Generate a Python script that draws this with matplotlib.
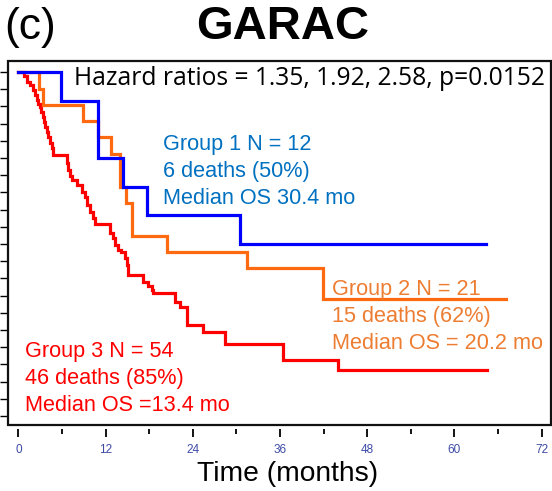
import matplotlib.pyplot as plt
from matplotlib.patches import Rectangle
import numpy as np

plt.rcParams['font.family'] = ['Liberation Sans', 'DejaVu Sans']

# Kaplan-Meier steps: drop times (months) and survival after each drop
g1_time = [0, 5.9, 11.0, 14.4, 17.7, 30.5]
g1_surv = [1.0, 0.917, 0.750, 0.667, 0.583, 0.500]
g1_end = 64.3

g2_time = [0, 2.9, 3.4, 8.9, 10.9, 12.8, 14.0, 14.8, 15.6, 20.4, 31.4, 41.9]
g2_surv = [1.0, 0.952, 0.905, 0.857, 0.810, 0.762, 0.667, 0.619, 0.524, 0.476, 0.429, 0.340]
g2_end = 67.1

g3_time = [0, 0.78, 1.20, 1.61, 2.02, 2.30, 2.57, 2.71, 2.98, 3.12, 3.40, 3.54, 3.67,
           3.95, 4.09, 4.36, 4.64, 4.77, 6.70, 6.84, 7.11, 7.39, 8.07, 8.76, 9.17,
           9.45, 9.86, 10.28, 10.55, 12.61, 13.03, 13.30, 13.71, 14.13, 14.68, 14.95,
           15.09, 17.15, 17.84, 18.39, 18.53, 21.55, 22.24, 23.20, 25.41, 28.43,
           36.41, 43.98]
g3_surv = [1.0, 0.988, 0.971, 0.962, 0.948, 0.933, 0.919, 0.907, 0.898, 0.884, 0.869,
           0.855, 0.840, 0.826, 0.811, 0.794, 0.779, 0.759, 0.735, 0.715, 0.698, 0.686,
           0.672, 0.651, 0.637, 0.613, 0.593, 0.576, 0.558, 0.532, 0.517, 0.497, 0.483,
           0.477, 0.459, 0.439, 0.410, 0.390, 0.378, 0.366, 0.358, 0.331, 0.317, 0.265,
           0.244, 0.209, 0.163, 0.134]
g3_end = 64.5

x_ticks = [0, 12, 24, 36, 48, 60, 72]

fig = plt.figure(figsize=(5.52, 4.91), dpi=100)
ax = fig.add_axes([8 / 552, 1 - 425 / 491, 543 / 552, 364 / 491])


def km(t, s, end):
    return t + [end], s + [s[-1]]


for t, s, end, c in [(g1_time, g1_surv, g1_end, '#0000ff'),
                     (g2_time, g2_surv, g2_end, '#ff6a10'),
                     (g3_time, g3_surv, g3_end, '#ff0000')][::-1]:
    xx, yy = km(t, s, end)
    ax.step(xx, yy, where='post', color=c, linewidth=2.3, solid_joinstyle='miter')

ax.set_xlim(-1.42, 73.3)
ax.set_ylim(-0.026, 1.032)

# frame drawn by hand so the x ticks can sit slightly below it
for sp in ax.spines.values():
    sp.set_visible(False)
ax.spines['bottom'].set_position(('outward', 3))
ax.add_patch(Rectangle((0, 0), 1, 1, transform=ax.transAxes, fill=False,
                       edgecolor='#111111', linewidth=1.6, clip_on=False, zorder=5))

ax.set_xticks(x_ticks)
ax.set_xticks(np.arange(6, 72, 12), minor=True)
ax.tick_params(axis='x', which='major', direction='out', length=6, width=1.3,
               labelsize=8.5, labelcolor='#3c4aa6', pad=5)
ax.tick_params(axis='x', which='minor', direction='out', length=3.5, width=1.3)
ax.set_yticks(np.arange(0, 1.001, 0.05))
ax.tick_params(axis='y', direction='out', length=6, width=1, labelleft=False)

ax.set_xlabel('Time (months)', fontsize=20.3)
ax.xaxis.set_label_coords(0.514, -0.099)

ax.text(0.989, 0.953, 'Hazard ratios = 1.35, 1.92, 2.58, p=0.0152', transform=ax.transAxes,
        ha='right', va='center', fontsize=17.7, family='Open Sans')

fs = 15.6
ls = 1.36
ax.text(0.286, 0.697, 'Group 1 N = 12\n6 deaths (50%)\nMedian OS 30.4 mo',
        transform=ax.transAxes, ha='left', va='center', fontsize=fs, color='#0070c0',
        linespacing=ls)
ax.text(0.597, 0.298, 'Group 2 N = 21\n15 deaths (62%)\nMedian OS = 20.2 mo',
        transform=ax.transAxes, ha='left', va='center', fontsize=fs, color='#ed7d31',
        linespacing=ls)
ax.text(0.031, 0.128, 'Group 3 N = 54\n46 deaths (85%)\nMedian OS =13.4 mo',
        transform=ax.transAxes, ha='left', va='center', fontsize=fs, color='#ff0000',
        linespacing=ls)

fig.text(283 / 552, 1 - 27 / 491, 'GARAC', ha='center', va='center', fontsize=34,
         fontweight='bold')
fig.text(4 / 552, 1 - 28 / 491, '(c)', ha='left', va='center', fontsize=32)

fig.savefig('out.png', dpi=100)
